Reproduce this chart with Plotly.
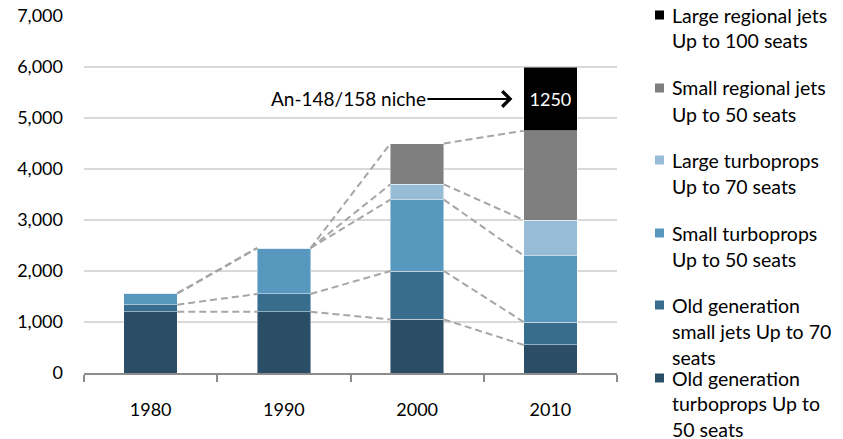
import plotly.graph_objects as go
import numpy as np

years = ["1980", "1990", "2000", "2010"]
series_names = [
    "Old generation<br>turboprops Up to<br>50 seats",
    "Old generation<br>small jets Up to 70<br>seats",
    "Small turboprops<br>Up to 50 seats",
    "Large turboprops<br>Up to 70 seats",
    "Small regional jets<br>Up to 50 seats",
    "Large regional jets<br>Up to 100 seats",
]
old_turboprops = [1200, 1200, 1050, 550]
old_small_jets = [140, 350, 950, 450]
small_turboprops = [220, 900, 1400, 1300]
large_turboprops = [0, 0, 300, 700]
small_regional_jets = [0, 0, 800, 1750]
large_regional_jets = [None, None, None, 1250]

colors = ["#2B4E66", "#396D8D", "#5898BE", "#97BDD6", "#7F7F7F", "#000000"]
series_values = [old_turboprops, old_small_jets, small_turboprops,
                 large_turboprops, small_regional_jets, large_regional_jets]

W, H = 843, 439
ML, MR, MT, MB = 84, 226, 16, 66
PW, PH = W - ML - MR, H - MT - MB
FONT = "Lato"
FS = 18
LEG_FS = 19.5
BAR_W = 0.4

xpos = np.arange(len(years))

fig = go.Figure()

# dashed series lines (connect stacked tops of the first five series)
cum = np.zeros(len(years))
for s in range(5):
    cum = cum + np.array([v or 0 for v in series_values[s]], dtype=float)
    for i in range(len(years) - 1):
        fig.add_trace(go.Scatter(
            x=[xpos[i] + BAR_W / 2, xpos[i + 1] - BAR_W / 2],
            y=[cum[i], cum[i + 1]],
            mode="lines",
            line=dict(color="#A6A6A6", width=2, dash="7px,4px"),
            showlegend=False, hoverinfo="skip"))

for s, (name, vals, col) in enumerate(zip(series_names, series_values, colors)):
    is_last = s == len(series_names) - 1
    fig.add_trace(go.Bar(
        x=xpos, y=vals, name=name, width=BAR_W,
        marker=dict(color=col, line=dict(color="rgba(255,255,255,0.45)", width=1)),
        text=[str(v) if v else "" for v in vals] if is_last else None,
        textposition="inside" if is_last else None,
        insidetextanchor="middle",
        textangle=0,
        constraintext="none",
        textfont=dict(color="white", size=FS, family=FONT),
        showlegend=False,
    ))

# legend drawn as squares + text lines
def px_to_paper_x(px):
    return (px - ML) / PW

def px_to_paper_y(py):
    return (H - MB - py) / PH

legend_first_line = [15, 88, 160, 233, 305, 378]
line_step = 26
shapes = []
annotations = []
order = list(range(len(series_names)))[::-1]
for k, s in enumerate(order):
    y0 = legend_first_line[k]
    shapes.append(dict(type="rect", xref="paper", yref="paper",
                       x0=px_to_paper_x(655), x1=px_to_paper_x(664),
                       y0=px_to_paper_y(y0 + 4.5), y1=px_to_paper_y(y0 - 4.5),
                       fillcolor=colors[s], line=dict(width=0)))
    for j, line in enumerate(series_names[s].split("<br>")):
        annotations.append(dict(
            x=px_to_paper_x(670), y=px_to_paper_y(y0 + j * line_step),
            xref="paper", yref="paper", xanchor="left", yanchor="middle",
            text=line, showarrow=False,
            font=dict(family=FONT, size=LEG_FS, color="#000000")))

# niche annotation with arrow pointing at the large regional jets segment
top_2010 = sum(v[3] for v in series_values[:5])
niche_mid = top_2010 + large_regional_jets[3] / 2
annotations.append(dict(
    x=xpos[3] - BAR_W / 2 - 0.085, y=niche_mid, xref="x", yref="y",
    text="An-148/158 niche", showarrow=True,
    axref="pixel", ayref="pixel", ax=-164, ay=0,
    arrowhead=4, arrowsize=1.5, arrowwidth=2, arrowcolor="#000000",
    font=dict(family=FONT, size=19, color="#000000")))

fig.update_layout(
    width=W, height=H,
    margin=dict(l=ML, r=MR, t=MT, b=MB, autoexpand=False),
    barmode="stack",
    paper_bgcolor="white", plot_bgcolor="white",
    font=dict(family=FONT, size=FS, color="#000000"),
    shapes=shapes, annotations=annotations,
    showlegend=False,
    xaxis=dict(
        range=[-0.5, len(years) - 0.5], automargin=False,
        tickvals=xpos, ticktext=years, ticks="",
        showgrid=False, zeroline=False,
        showline=True, linecolor="#8C8C8C", linewidth=1.5,
        ticklabelstandoff=20,
        tickfont=dict(family=FONT, size=FS, color="#000000"),
        minor=dict(tickvals=np.arange(-0.5, len(years), 1.0), ticks="outside",
                   ticklen=7, tickcolor="#8C8C8C", tickwidth=1.5, showgrid=False),
    ),
    yaxis=dict(
        range=[0, 7000], tickvals=list(range(0, 7001, 1000)), automargin=False,
        tickformat=",d",
        showgrid=True, gridcolor="#D9D9D9", gridwidth=1.5,
        zeroline=False, showline=False, ticks="",
        ticklabelstandoff=20,
        tickfont=dict(family=FONT, size=FS, color="#000000"),
    ),
)

fig.write_html("out.html")
